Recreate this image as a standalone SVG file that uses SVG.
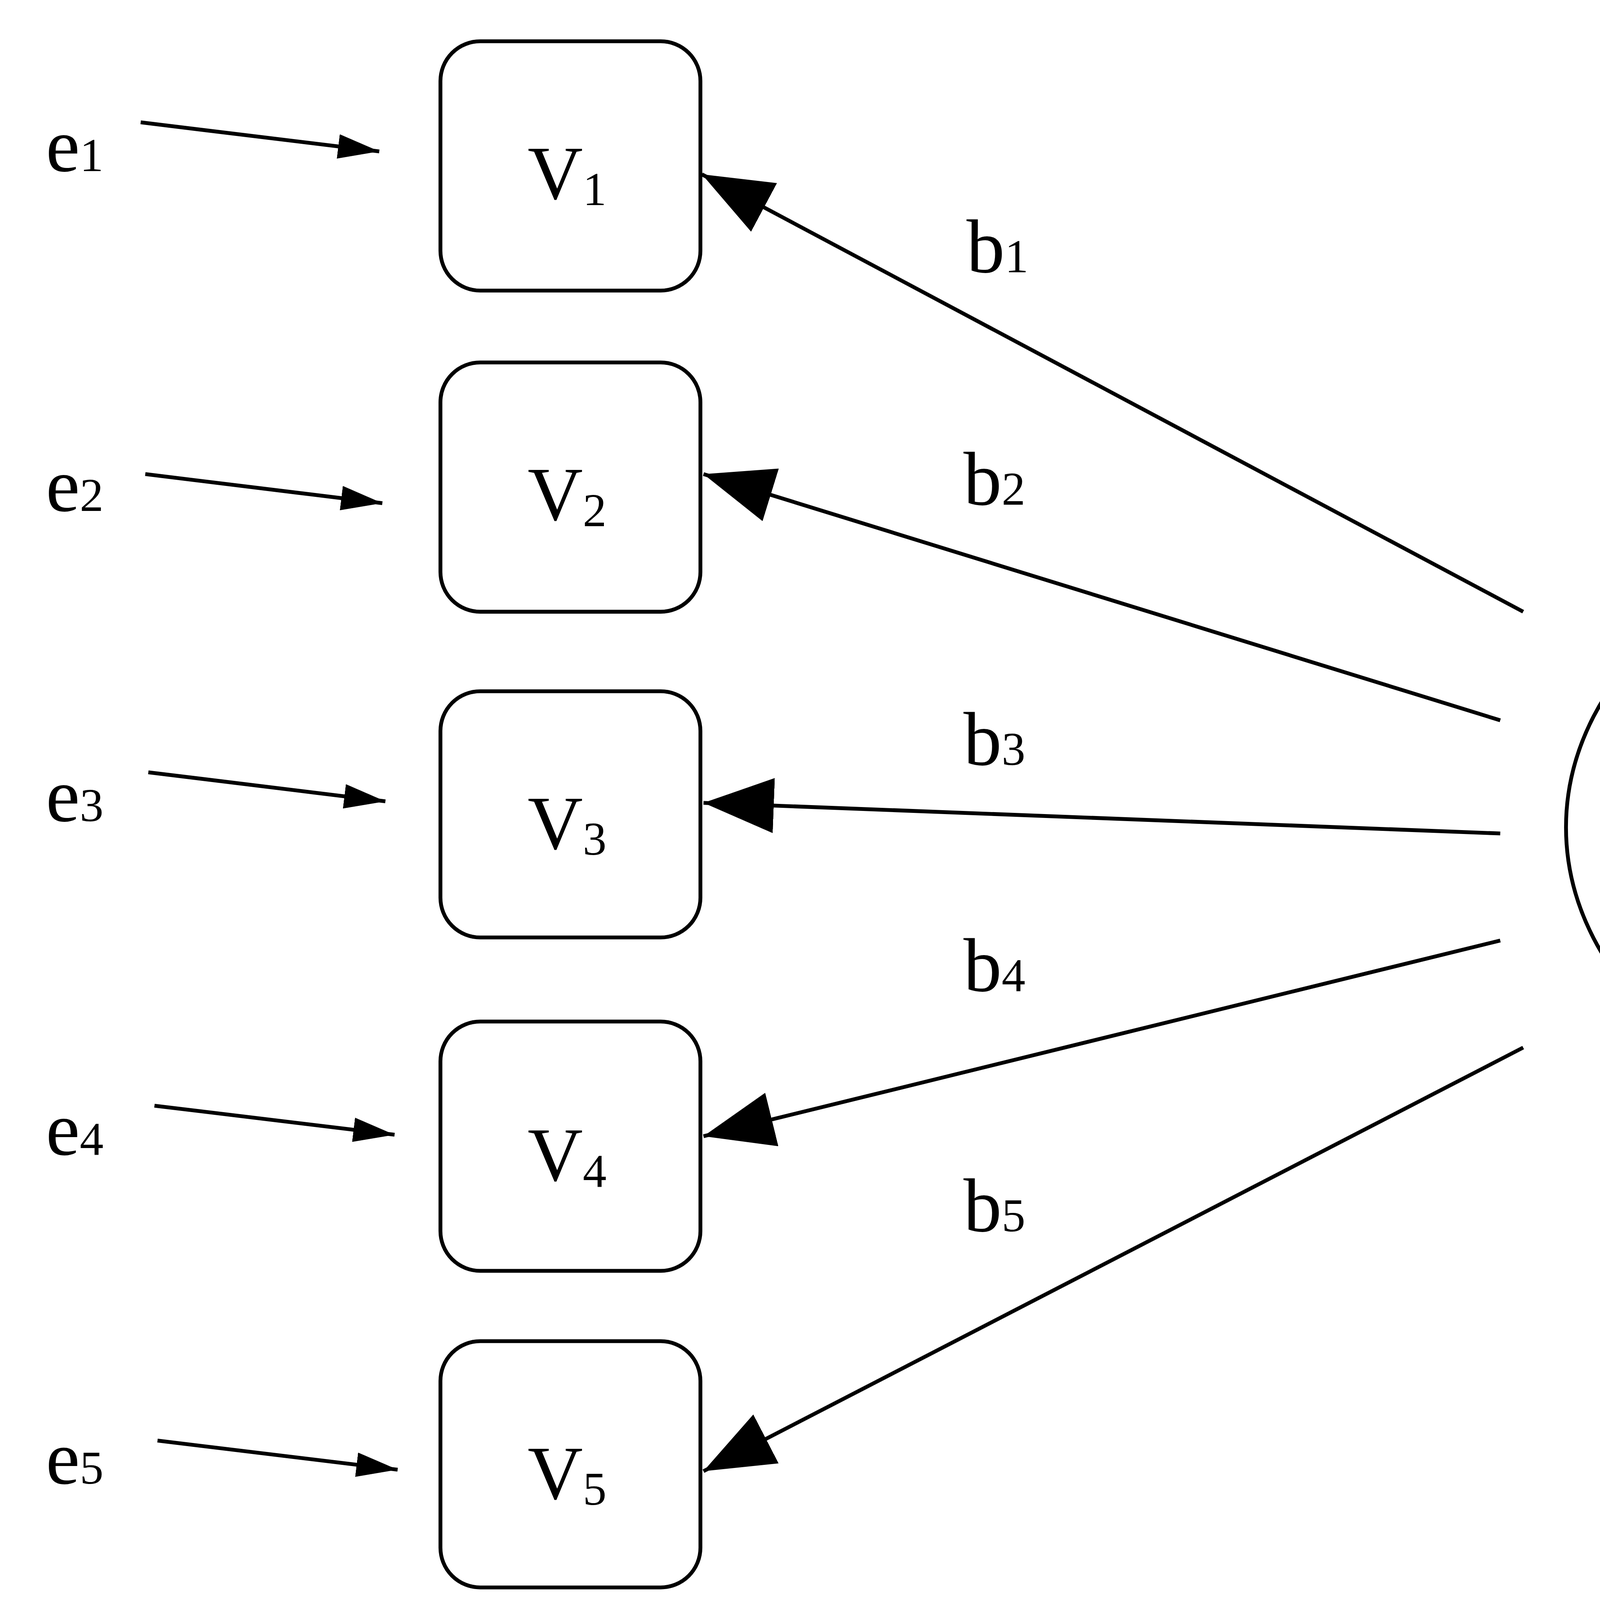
<svg xmlns="http://www.w3.org/2000/svg" width="6138" height="4246" viewBox="0 0 6138 4246">
<style>
.t{font-family:"Liberation Serif","DejaVu Serif",serif;font-size:50px;fill:#000}
.s{font-size:31px}
.box{fill:#fff;stroke:#000;stroke-width:2.5}
.ln{stroke:#000;stroke-width:2.5;fill:none}
</style>
<defs>
<marker id="big" markerUnits="userSpaceOnUse" markerWidth="50" markerHeight="40" refX="46" refY="18" orient="auto"><path d="M0,0 L46,18 L0,36 Z" fill="#000"/></marker>
<marker id="sm" markerUnits="userSpaceOnUse" markerWidth="30" markerHeight="20" refX="27" refY="8" orient="auto"><path d="M0,0 L27,8 L0,16 Z" fill="#000"/></marker>
</defs>
<rect width="6138" height="4246" fill="#fff"/>
<g transform="scale(3.915)">
<g id="connectors">
<line class="ln" x1="92" y1="80" x2="248" y2="99" marker-end="url(#sm)"/>
<line class="ln" x1="95" y1="310" x2="250" y2="329" marker-end="url(#sm)"/>
<line class="ln" x1="97" y1="505" x2="252" y2="524" marker-end="url(#sm)"/>
<line class="ln" x1="101" y1="723" x2="258" y2="742" marker-end="url(#sm)"/>
<line class="ln" x1="103" y1="942" x2="260" y2="961" marker-end="url(#sm)"/>
<line class="ln" x1="996" y1="400" x2="459" y2="114" marker-end="url(#big)"/>
<line class="ln" x1="981" y1="471" x2="460" y2="310" marker-end="url(#big)"/>
<line class="ln" x1="981" y1="545" x2="460" y2="525" marker-end="url(#big)"/>
<line class="ln" x1="981" y1="615" x2="460" y2="743" marker-end="url(#big)"/>
<line class="ln" x1="996" y1="685" x2="460" y2="962" marker-end="url(#big)"/>
</g>
<g id="V1"><rect class="box" x="288" y="27" width="170" height="163" rx="26"/><text class="t" x="345" y="130">V<tspan class="s" dy="4">1</tspan></text></g>
<g id="V2"><rect class="box" x="288" y="237" width="170" height="163" rx="26"/><text class="t" x="345" y="340">V<tspan class="s" dy="4">2</tspan></text></g>
<g id="V3"><rect class="box" x="288" y="452" width="170" height="161" rx="26"/><text class="t" x="345" y="555">V<tspan class="s" dy="4">3</tspan></text></g>
<g id="V4"><rect class="box" x="288" y="668" width="170" height="163" rx="26"/><text class="t" x="345" y="772">V<tspan class="s" dy="4">4</tspan></text></g>
<g id="V5"><rect class="box" x="288" y="877" width="170" height="161" rx="26"/><text class="t" x="345" y="980">V<tspan class="s" dy="4">5</tspan></text></g>
<g id="F"><ellipse class="box" cx="1281" cy="541" rx="257" ry="197"/><text class="t" x="1282" y="525" text-anchor="middle">Latent</text><text class="t" x="1282" y="598" text-anchor="middle">Factor, F</text></g>
<g id="e-labels">
<text class="t" x="30" y="112">e<tspan class="s">1</tspan></text>
<text class="t" x="30" y="334">e<tspan class="s">2</tspan></text>
<text class="t" x="30" y="537">e<tspan class="s">3</tspan></text>
<text class="t" x="30" y="755">e<tspan class="s">4</tspan></text>
<text class="t" x="30" y="970">e<tspan class="s">5</tspan></text>
</g>
<g id="b-labels">
<text class="t" x="632" y="178">b<tspan class="s">1</tspan></text>
<text class="t" x="630" y="330">b<tspan class="s">2</tspan></text>
<text class="t" x="630" y="500">b<tspan class="s">3</tspan></text>
<text class="t" x="630" y="648">b<tspan class="s">4</tspan></text>
<text class="t" x="630" y="805">b<tspan class="s">5</tspan></text>
</g>
</g>
</svg>
